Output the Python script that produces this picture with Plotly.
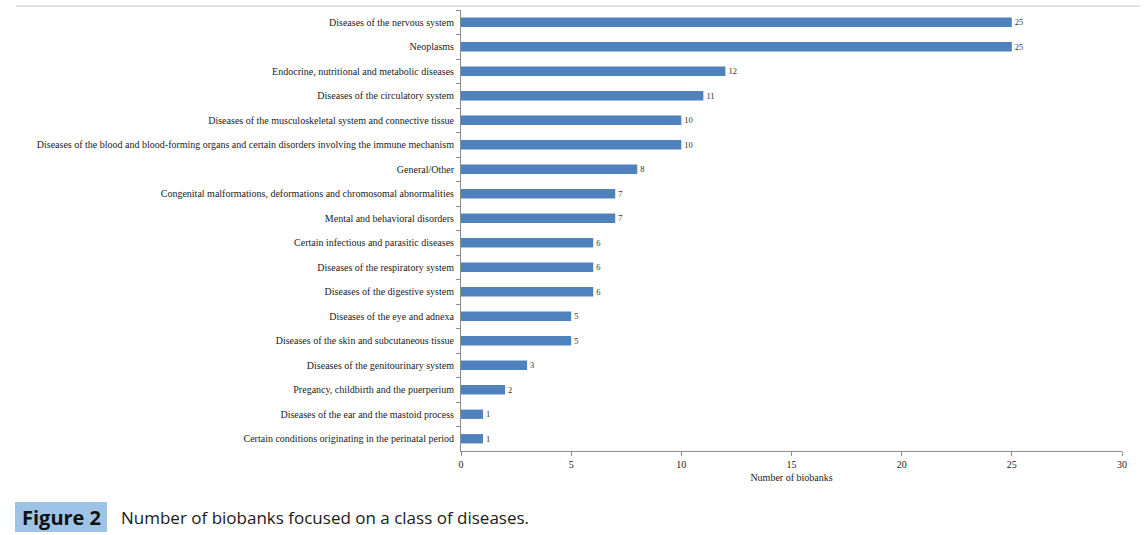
import plotly.graph_objects as go

categories = [
    "Diseases of the nervous system",
    "Neoplasms",
    "Endocrine, nutritional and metabolic diseases",
    "Diseases of the circulatory system",
    "Diseases of the musculoskeletal system and connective tissue",
    "Diseases of the blood and blood-forming organs and certain disorders involving the immune mechanism",
    "General/Other",
    "Congenital malformations, deformations and chromosomal abnormalities",
    "Mental and behavioral disorders",
    "Certain infectious and parasitic diseases",
    "Diseases of the respiratory system",
    "Diseases of the digestive system",
    "Diseases of the eye and adnexa",
    "Diseases of the skin and subcutaneous tissue",
    "Diseases of the genitourinary system",
    "Pregancy, childbirth and the puerperium",
    "Diseases of the ear and the mastoid process",
    "Certain conditions originating in the perinatal period",
]
values = [25, 25, 12, 11, 10, 10, 8, 7, 7, 6, 6, 6, 5, 5, 3, 2, 1, 1]
x_ticks = [0, 5, 10, 15, 20, 25, 30]

W, H = 1144, 535
L, R, T, B = 461, 1122, 10, 451

def px_x(p):
    return (p - L) / (R - L)

def px_y(p):
    return (B - p) / (B - T)

serif = "Liberation Serif"
sans = "Open Sans"

fig = go.Figure(go.Bar(
    x=values,
    y=categories,
    orientation="h",
    marker=dict(color="#4F81BD", line=dict(width=0)),
    width=0.38,
    text=[str(v) for v in values],
    textposition="outside",
    textfont=dict(family=serif, size=10, color="#333333"),
    cliponaxis=False,
))

fig.update_layout(
    width=W, height=H,
    margin=dict(l=L, r=W - R, t=T, b=H - B),
    paper_bgcolor="white",
    plot_bgcolor="white",
    showlegend=False,
    font=dict(family=serif, size=10, color="#222222"),
    xaxis=dict(
        range=[0, 30],
        tickvals=x_ticks,
        ticktext=[str(t) for t in x_ticks],
        showgrid=False,
        zeroline=False,
        showline=True,
        linecolor="#8c8c8c",
        linewidth=1,
        ticks="outside",
        ticklen=4,
        tickcolor="#8c8c8c",
        tickfont=dict(family=serif, size=10, color="#222222"),
        title=dict(text="Number of biobanks", font=dict(family=serif, size=10, color="#222222"), standoff=4),
    ),
    yaxis=dict(
        type="category",
        categoryorder="array",
        categoryarray=categories,
        autorange="reversed",
        showgrid=False,
        zeroline=False,
        showline=True,
        linecolor="#8c8c8c",
        linewidth=1,
        ticks="outside",
        tickson="boundaries",
        ticklen=4,
        tickcolor="#8c8c8c",
        ticklabelstandoff=4,
        tickfont=dict(family=serif, size=10, color="#222222"),
    ),
)

# top separator line
fig.add_shape(type="line", xref="paper", yref="paper",
              x0=px_x(16), x1=px_x(1140), y0=px_y(6), y1=px_y(6),
              line=dict(color="#d9d9d9", width=1.5))

# caption box
fig.add_shape(type="rect", xref="paper", yref="paper",
              x0=px_x(15), x1=px_x(107), y0=px_y(532), y1=px_y(502),
              fillcolor="#9DC3E6", line=dict(width=0))
fig.add_annotation(xref="paper", yref="paper", x=px_x(61), y=px_y(517),
                   text="<b>Figure 2</b>", showarrow=False,
                   xanchor="center", yanchor="middle",
                   font=dict(family=sans, size=20, color="#111111"))
fig.add_annotation(xref="paper", yref="paper", x=px_x(119), y=px_y(517),
                   text="Number of biobanks focused on a class of diseases.", showarrow=False,
                   xanchor="left", yanchor="middle",
                   font=dict(family=sans, size=17, color="#1a1a1a"))

fig.write_html("out.html", config={"displayModeBar": False},
               post_script="document.body.style.margin='0';document.body.style.overflow='hidden';")
